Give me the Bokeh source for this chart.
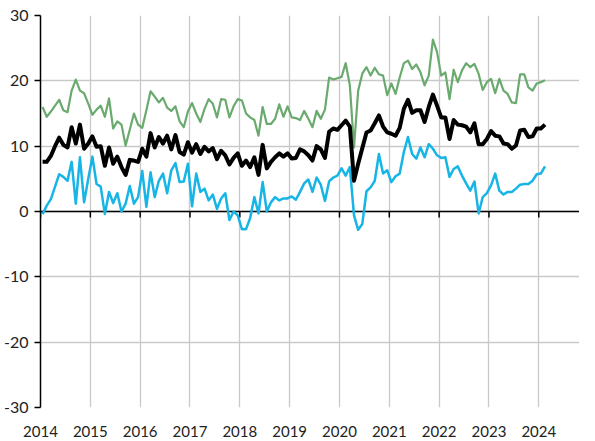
import pandas as pd
from bokeh.plotting import figure
from bokeh.models import FixedTicker, Span
from bokeh.embed import file_html
from bokeh.resources import INLINE

# Monthly series, Jan 2014 - Feb 2024
green = [
    16.0, 14.5, 15.3, 16.2, 17.1, 15.5, 15.2, 18.5, 20.2, 18.5, 18.1, 16.5,
    14.8, 15.6, 16.2, 14.5, 17.3, 12.7, 13.8, 13.3, 10.1, 12.5, 15.0, 13.3,
    12.8, 15.5, 18.4, 17.6, 16.7, 17.4, 15.9, 15.4, 16.1, 13.8, 12.9, 15.3,
    16.6, 15.0, 13.7, 15.7, 17.2, 16.5, 14.4, 17.2, 17.1, 14.4, 16.1, 17.2,
    17.0, 15.0, 14.4, 14.0, 11.6, 16.0, 13.4, 13.4, 14.2, 16.4, 14.5, 16.1,
    14.4, 14.3, 14.0, 15.4, 14.2, 12.9, 15.4, 14.2, 15.6, 20.5, 20.2, 20.4,
    20.6, 22.7, 19.3, 9.8, 18.5, 21.1, 22.1, 20.8, 22.0, 21.0, 20.8, 17.8,
    19.6, 18.0, 20.5, 22.7, 23.1, 21.8, 22.5, 21.3, 19.3, 20.8, 26.3, 24.4,
    20.8, 21.3, 17.2, 21.7, 19.8, 21.6, 22.7, 22.1, 22.6, 21.1, 18.6, 19.8,
    20.3, 18.1, 20.3, 18.5, 18.0, 16.7, 16.6, 21.0, 21.0, 19.0, 18.5, 19.6,
    19.8, 20.1,
]
black = [
    7.6, 7.6, 8.5, 10.0, 11.3, 10.2, 9.8, 12.9, 10.4, 13.3, 9.6, 10.4,
    11.5, 9.9, 10.0, 7.0, 9.8, 7.3, 8.4, 6.8, 5.6, 7.9, 7.8, 7.6,
    9.6, 8.4, 12.0, 9.8, 11.4, 10.4, 11.6, 9.5, 11.7, 9.1, 8.7, 10.6,
    9.0, 10.3, 8.8, 9.9, 9.2, 9.7, 8.0, 9.3, 8.6, 7.2, 8.2, 8.9,
    7.0, 7.8, 6.8, 8.3, 5.6, 10.2, 6.6, 7.6, 8.3, 8.9, 8.4, 8.9,
    8.1, 8.2, 9.5, 9.2, 8.6, 7.8, 10.0, 9.5, 8.2, 12.2, 12.7, 12.5,
    13.2, 13.9, 13.0, 4.7, 7.3, 9.7, 12.1, 12.4, 13.5, 14.7, 13.0, 12.1,
    11.9, 11.6, 12.8, 15.7, 17.1, 15.1, 15.5, 15.5, 13.7, 16.0, 17.9, 16.2,
    14.4, 14.4, 11.1, 14.0, 13.3, 13.2, 13.0, 12.1, 13.5, 10.3, 10.3, 11.1,
    12.3, 11.6, 11.5, 10.4, 10.3, 9.6, 10.1, 12.4, 12.5, 11.4, 11.5, 12.7,
    12.7, 13.3,
]
cyan = [
    -0.4, 0.9, 1.9, 3.8, 5.7, 5.3, 4.7, 7.6, 1.2, 8.3, 1.4, 5.0,
    8.4, 4.2, 3.8, -0.4, 3.0, 1.3, 2.8, 0.0, 1.2, 3.9, 1.2, 2.2,
    6.2, 0.7, 6.0, 2.2, 4.7, 5.8, 2.8, 6.3, 7.4, 4.5, 4.6, 7.3,
    0.8, 5.8, 3.0, 3.5, 1.7, 2.6, 0.4, 2.0, 2.8, -1.3, 0.0, -0.6,
    -2.7, -2.7, -1.0, 2.2, -0.3, 4.5, 0.0, 1.4, 2.2, 1.7, 2.0, 2.0,
    2.3, 1.8, 3.0, 4.3, 4.9, 3.0, 5.2, 4.1, 1.6, 4.6, 5.2, 5.5,
    6.6, 5.5, 6.8, -0.6, -2.8, -1.9, 3.1, 3.7, 4.7, 8.8, 5.8, 6.3,
    4.5, 5.4, 5.8, 9.1, 11.4, 8.8, 8.1, 9.8, 8.3, 10.3, 9.6, 8.6,
    8.2, 8.3, 5.3, 6.5, 6.9, 5.5, 4.3, 3.2, 4.6, -0.3, 2.2, 2.8,
    4.0, 5.8, 3.2, 2.6, 3.0, 3.0, 3.5, 4.1, 4.2, 4.2, 4.7, 5.7,
    5.8, 6.9,
]
year_ticks = [2014, 2015, 2016, 2017, 2018, 2019, 2020, 2021, 2022, 2023, 2024]
y_ticks = [-30, -20, -10, 0, 10, 20, 30]
y_tick_labels = ["-30", "-20", "-10", "0", "10", "20", "30"]

months = pd.date_range("2014-01-01", periods=len(green), freq="MS")
x = list(months.year + (months.month - 0.5) / 12.0)

p = figure(width=579, height=441,
           x_range=(2014, 2024.817), y_range=(-30, 30),
           output_backend="svg", toolbar_location=None,
           min_border_left=36, min_border_right=0,
           min_border_top=15, min_border_bottom=34)
p.outline_line_color = None
p.background_fill_color = "white"
p.border_fill_color = "white"

grid_color = "#c9c9c9"
p.xaxis.ticker = FixedTicker(ticks=year_ticks)
p.xaxis.axis_line_color = None
p.xaxis.major_tick_line_color = None
p.xaxis.minor_tick_line_color = None
p.xaxis.major_label_standoff = 12
p.xaxis.major_label_text_font = "Lato"
p.xaxis.major_label_text_font_size = "15px"
p.xaxis.major_label_text_color = "#222222"

p.yaxis.ticker = FixedTicker(ticks=y_ticks)
p.yaxis.major_label_overrides = dict(zip(y_ticks, y_tick_labels))
p.yaxis.axis_line_color = "black"
p.yaxis.axis_line_width = 1.5
p.yaxis.major_tick_line_color = "black"
p.yaxis.major_tick_line_width = 1.5
p.yaxis.major_tick_out = 6
p.yaxis.major_tick_in = 0
p.yaxis.minor_tick_line_color = None
p.yaxis.major_label_standoff = 6
p.yaxis.major_label_text_font = "Lato"
p.yaxis.major_label_text_font_size = "16px"
p.yaxis.major_label_text_color = "#222222"

p.xgrid.ticker = FixedTicker(ticks=year_ticks)
p.ygrid.ticker = FixedTicker(ticks=y_ticks)
p.xgrid.grid_line_color = grid_color
p.ygrid.grid_line_color = grid_color
p.xgrid.grid_line_width = 1.3
p.ygrid.grid_line_width = 1.3

zero = Span(location=0, dimension="width", line_color="black",
            line_width=1.5, level="underlay")
p.add_layout(zero)
p.segment(x0=year_ticks, y0=[0] * len(year_ticks), x1=year_ticks,
          y1=[-0.9] * len(year_ticks), line_color="black", line_width=1.5)

p.line(x, green, line_color="#6BAA6E", line_width=2.2, line_join="round")
p.line(x, cyan, line_color="#17B5E6", line_width=2.5, line_join="round")
p.line(x, black, line_color="black", line_width=4, line_join="round")

open("out.html", "w").write(file_html(p, INLINE))
